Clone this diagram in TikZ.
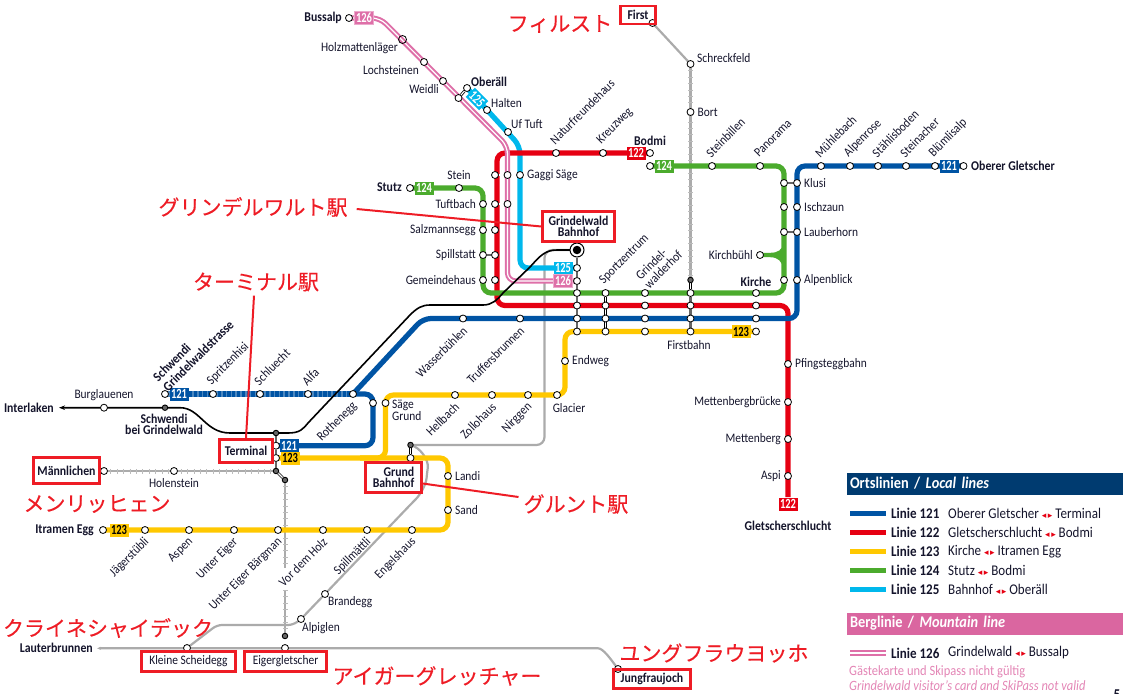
\documentclass[tikz,border=0pt]{standalone}
\usepackage{fontspec}
\usepackage{xcolor}
\setmainfont{Carlito}[FakeStretch=0.88]
\newfontfamily\numfont{Carlito}[FakeStretch=0.75]
\newfontfamily\jpfont{Noto Sans CJK JP}[FakeBold=0.3]
\newfontfamily\symfont{DejaVu Sans}
\usetikzlibrary{calc, backgrounds, arrows.meta}

\definecolor{lineblue}{HTML}{0054A4}
\definecolor{linered}{HTML}{E60012}
\definecolor{lineyellow}{HTML}{FFC800}
\definecolor{linegreen}{HTML}{4BAB2D}
\definecolor{linecyan}{HTML}{00B8EC}
\definecolor{linepink}{HTML}{DE6FA8}
\definecolor{railgray}{HTML}{ABABAB}
\definecolor{linkgray}{HTML}{666666}
\definecolor{textdark}{HTML}{14142B}
\definecolor{noteRed}{HTML}{EE1C25}
\definecolor{bandblue}{HTML}{003B70}
\definecolor{bandpink}{HTML}{DA66A0}

\newcommand{\lrmark}{{\symfont\fontsize{9}{9}\selectfont\textcolor{linered}{◂\,▸}}}

\tikzset{
  rail/.style={line width=5.2pt, rounded corners=8pt},
  railpink/.style={draw=linepink, line width=2pt, double=white, double distance=1.2pt, rounded corners=8pt},
  graytrain/.style={draw=railgray, line width=2.2pt, rounded corners=8pt},
  graycable/.style={graytrain, postaction={draw=railgray!80, line width=5pt, dash pattern=on .8pt off 5.6pt}},
  linkw/.style={draw=black, line width=.8pt, double=white, double distance=1.1pt},
  linkd/.style={draw=linkgray, line width=2.8pt},
  stn/.style={circle, draw=black, fill=white, line width=.8pt, minimum size=7pt, inner sep=0pt},
  stnopen/.style={circle, draw=black, line width=.8pt, minimum size=8pt, inner sep=0pt},
  stnd/.style={circle, draw=black, fill=linkgray, line width=.9pt, minimum size=5.5pt, inner sep=0pt},
  txt/.style={font=\fontsize{13}{12.2}\selectfont, text=textdark, inner sep=0pt},
  txtb/.style={txt, font=\bfseries\fontsize{13.4}{11.6}\selectfont},
  txtup/.style={txt, rotate=45, anchor=west},
  txtdn/.style={txt, rotate=45, anchor=east},
  txtr/.style={txt, anchor=west},
  txtl/.style={txt, anchor=east},
  numbox/.style={font=\numfont\bfseries\fontsize{14}{14}\selectfont, inner sep=0pt, minimum width=19pt, minimum height=13pt, text=white},
  frame/.style={txtb, draw=noteRed, line width=2.4pt},
  frametxt/.style={txt, draw=noteRed, line width=2.4pt},
  notejp/.style={font=\jpfont\fontsize{21}{21}\selectfont, text=noteRed, inner sep=0pt},
  noteline/.style={draw=noteRed, line width=2pt},
  band/.style={font=\bfseries\fontsize{16.3}{16}\selectfont, text=white, minimum height=22pt, text width=270pt, inner xsep=3pt, inner ysep=0pt, align=left},
  legb/.style={txt, font=\bfseries\fontsize{14.8}{15}\selectfont, anchor=west},
  legt/.style={txt, font=\fontsize{14.8}{15}\selectfont, anchor=west},
}

\begin{document}
\begin{tikzpicture}[>=stealth, x=1pt, y=-1pt]
    \useasboundingbox (0,0) rectangle (1123,693);

    % =================================================================
    % 1. STATIONS
    % =================================================================
    % columns crossing the four lines
    \foreach \nm/\x in {bah/577, spo/605.5, wal/645, fir/690.5, kir/756} {
        \foreach \lin/\y in {g/293, r/305.5, b/318.5, y/331.5} {
            \node[stn] (\nm\lin) at (\x,\y) {};
        }
    }

    % labels rising to the right
    \foreach \nm/\x/\y/\txt in {nat/556/153/Naturfreundehaus, kre/603/153/Kreuzweg,
        ste/712/166/Steinbillen, pan/760/166/Panorama, mue/821/166/Mühlebach,
        alr/850/166/Alpenrose, sta/878/166/Stählisboden, sti/906/166/Steinacher,
        blu/935/166/Blümlisalp, spr/213/394/Spritzenhisi, sch/260/394/Schluecht,
        alf/308/394/Alfa} {
        \node[stn] (\nm) at (\x,\y) {};
        \node[txtup] (\nm-t) at ($(\nm)+(-4,-11)$) {\txt};
    }
    \node[txtup] (spo-t) at ($(spog)+(-4,-11)$) {Sportzentrum};
    \node[txtup, align=left] (wal-t) at ($(walg)+(-3,-11)$) {Grindel-\\walderhof};

    % labels falling to the left
    \foreach \nm/\x/\y/\txt in {was/463/318.5/Wasserbühlen, tru/520/318.5/Truffersbrunnen,
        hel/455/395/Hellbach, zol/492/395/Zollohaus, nir/528/395/Nirggen,
        rot/353/394/Rothenegg, jae/145/530/Jägerstübli, asp/189/530/Aspen,
        uei/234/530/Unter Eiger, uba/278/530/Unter Eiger Bärgman, vor/323/530/Vor dem Holz,
        spi/367/530/Spillmättli, eng/412/530/Engelshaus} {
        \node[stn] (\nm) at (\x,\y) {};
        \node[txtdn] (\nm-t) at ($(\nm)+(2,10)$) {\txt};
    }

    % labels on the right
    \foreach \nm/\x/\y/\txt in {gaa/520/175/Gaggi Säge, klb/797/183/Klusi, isb/797/207/Ischzaun,
        lab/797/232/Lauberhorn, apb/797/280/Alpenblick, pfi/788/364/Pfingsteggbahn,
        lan/448/476/Landi, san/448/510/Sand, end/565/361/Endweg, bor/690.5/112/Bort} {
        \node[stn] (\nm) at (\x,\y) {};
        \node[txtr] (\nm-t) at ($(\nm)+(7,0)$) {\txt};
    }

    % labels on the left
    \foreach \nm/\x/\y/\txt in {tuf/483/204/Tuftbach, sal/483/230/Salzmannsegg, spt/483/255/Spillstatt,
        gem/483/280/Gemeindehaus, kib/760/255/Kirchbühl, mbr/788/402/Mettenbergbrücke,
        mbg/788/439/Mettenberg, asi/788/476/Aspi} {
        \node[stn] (\nm) at (\x,\y) {};
        \node[txtl] (\nm-t) at ($(\nm)+(-7,0)$) {\txt};
    }

    % stations with a label of their own
    \node[stn] (gab) at (495,175) {};
    \node[stn] (gap) at (507.5,175) {};
    \node[stn] (tub) at (495,204) {};
    \node[stn] (tup) at (507.5,204) {};
    \node[stn] (sab) at (495,230) {};
    \node[stn] (spb) at (495,255) {};
    \node[stn] (geb) at (495,280) {};
    \node[stn] (klg) at (784,183) {};
    \node[stn] (isg) at (784,207) {};
    \node[stn] (lag) at (784,232) {};
    \node[stn] (apg) at (784,280) {};
    \node[stn] (sey) at (385.5,403) {};
    \node[stn] (seb) at (373,403) {};

    \node[stn] (bus) at (349,18) {};
    \node[stnopen] (hol) at (402.5,39.5) {};
    \node[stn] (loc) at (424,62) {};
    \node[stn] (wei) at (443,81) {};
    \node[stn] (obp) at (458.5,98) {};
    \node[stn] (obc) at (467,88) {};
    \node[stn] (hal) at (487,110) {};
    \node[stn] (uft) at (508,132) {};
    \node[stn] (stu) at (410,188) {};
    \node[stn] (stn) at (459,188) {};
    \node[stn] (bor122) at (650,153) {};
    \node[stn] (bor124) at (650,166) {};
    \node[stn] (ogl) at (963.5,166) {};
    \node[stn] (bur) at (104,407.7) {};
    \node[stnd] (swb) at (165,407.7) {};
    \node[stn] (swg) at (165,394) {};
    \node[stnd] (tdn) at (276,433) {};
    \node[stn] (t121) at (276,445.7) {};
    \node[stn] (t123) at (276,458) {};
    \node[stnd] (tup2) at (276,471) {};
    \node[stnd] (tlo) at (285,480) {};
    \node[stn] (mae) at (104,471) {};
    \node[stn] (hle) at (174,471) {};
    \node[stn] (itr) at (103,530) {};
    \node[stn] (gla) at (557,395) {};
    \node[stnd] (gro) at (410.5,445) {};
    \node[stn] (gru) at (410.5,458) {};
    \node[stn] (brn) at (325,594) {};
    \node[stn] (alg) at (301,619) {};
    \node[stn] (kls) at (187,648) {};
    \node[stn] (eig) at (285,648) {};
    \node[stnd] (eid) at (285,636) {};
    \node[stn] (jun) at (618,669) {};
    \node[stn] (fst) at (652.5,23) {};
    \node[stn] (sre) at (690.5,64) {};
    \node[stnd] (fdn) at (690.5,280) {};
    \node[stn] (bah125) at (577,268) {};
    \node[stn] (bah126) at (577,281) {};
    \node[circle, draw=black, fill=white, line width=1pt, minimum size=14pt, inner sep=0pt] (bah) at (577,250) {};
    \node[circle, fill=black, minimum size=8.5pt, inner sep=0pt] (bah-in) at (bah) {};

    % =================================================================
    % 2. RAILS, BEHIND THE STATIONS
    % =================================================================
    \begin{scope}[on background layer]
        % mountain rails
        \draw[graytrain] (fst.center) -- (sre.center);
        \draw[graycable] (sre.center) -- (fdn.center);
        \draw[graycable] (mae.center) -- (tup2.center);
        \draw[graycable] (tlo.center) -- (285,568);
        \draw[graycable] (285,590) -- (eid.center);
        \draw[graytrain, {Stealth[length=4pt, width=3pt]}-] (97,648.3) -- (590,648.3) .. controls (603,648.3) and (610,658) .. (jun.center);
        \draw[graytrain] (bah.center) -- (544.5,250) -- (544.5,445) -- (gro.center);
        \draw[graytrain, rounded corners=5pt] (gro.center) .. controls (420,447) and (429,460) .. (427,473)
            .. controls (426,485) and (420,495) .. (412,503) -- (brn.center) -- (alg.center) -- (293,625) -- (217,625) -- (kls.center);

        % coloured lines
        \draw[rail, linecyan] (obc.center) -- (520,146) -- (520,268) -- (bah125.center);
        \draw[rail, linered] (788,497) -- (788,305.5) -- (497,305.5) -- (497,153) -- (bor122.center);
        \draw[railpink] (bus.center) -- (380,18) -- (507.5,146) -- (507.5,281) -- (bah126.center);
        \draw[rail, linegreen] (stu.center) -- (483,188) -- (483,293) -- (784,293) -- (784,166) -- (bor124.center);
        \fill[linegreen] (kib.center) ++(0,-2.2) -- (770,252.8) .. controls (778,252.8) and (782,250) .. (784,243)
            -- (784,270) .. controls (782,261) and (778,257.2) .. (770,257.2) -- (760,257.2) -- cycle;
        \draw[rail, lineblue] (ogl.center) -- (797,166) -- (797,318.5) -- (423,318.5) -- (rot.center);
        \draw[rail, lineblue] (rot.center) -- (373,394) -- (373,445.7) -- (t121.center);
        \draw[lineblue!70, line width=5.2pt] (swg.center) -- (rot.center);
        \draw[lineblue, line width=5.2pt, dash pattern=on 3.2pt off 1.6pt] (swg.center) -- (rot.center);
        \draw[rail, lineyellow] (kiry.center) -- (565,331.5) -- (565,395) -- (385.5,395) -- (385.5,458) -- (360,458);
        \draw[rail, lineyellow] (t123.center) -- (448,458) -- (448,530) -- (itr.center);

        % the valley railway
        \draw[{Stealth[length=6pt, width=4.5pt]}-, line width=1.6pt] (59,407.7) -- (bur.center) -- (180,407.7)
            .. controls (200,407.7) and (205,433) .. (230,433) -- (288,433)
            .. controls (300,433) and (303,429) .. (308,423) -- (410,315)
            .. controls (417,308) and (422,305) .. (430,305) -- (483,305)
            .. controls (492,305) and (497,300) .. (503,293) -- (530,267)
            .. controls (540,256) and (545,250) .. (557,250) -- (bah.center);

        % links between stations
        \draw[linkd] (bah) -- (bah125) -- (bah126) -- (bahg) -- (bahr) -- (bahb) -- (bahy);
        \draw[linkd] (firg) -- (firr) -- (firb) -- (firy);
        \draw[linkw] (fdn) -- (firg);
        \draw[linkw] (spog) -- (spor) -- (spob) -- (spoy);
        \draw[linkw] (walg) -- (walr) -- (walb) -- (waly);
        \draw[linkw] (kirg) -- (kirr) -- (kirb) -- (kiry);
        \draw[linkw] (gab) -- (gap) -- (gaa);
        \draw[linkw] (tuf) -- (tub) -- (tup);
        \draw[linkw] (sal) -- (sab);
        \draw[linkd, line width=2pt] (spt) -- (spb);
        \draw[linkw] (gem) -- (geb);
        \draw[linkd, line width=2pt] (klg) -- (klb);
        \draw[linkw] (isg) -- (isb);
        \draw[linkd, line width=2pt] (lag) -- (lab);
        \draw[linkw] (apg) -- (apb);
        \draw[linkw] (seb) -- (sey);
        \draw[linkw] (obp) -- (obc);
        \draw[linkw] (bor122) -- (bor124);
        \draw[linkw] (swb) -- (swg);
        \draw[linkw] (gro) -- (gru);
        \draw[linkw] (eid) -- (eig);
        \draw[linkw] (tup2) -- (tlo);
        \draw[linkd] (tdn) -- (t121) -- (t123) -- (tup2);
    \end{scope}

    % =================================================================
    % 3. LINE NUMBER BOXES
    % =================================================================
    \node[numbox, fill=linepink, draw=linepink!60] (box126a) at (364,18) {126};
    \node[numbox, fill=linecyan, rotate=-45] (box125a) at (477,99) {125};
    \node[numbox, fill=linered] (box122a) at (636,153) {122};
    \node[numbox, fill=linegreen] (box124a) at (664,166) {124};
    \node[numbox, fill=linegreen] (box124b) at (424,188) {124};
    \node[numbox, fill=lineblue] (box121a) at (949,166) {121};
    \node[numbox, fill=linecyan] (box125b) at (563,268) {125};
    \node[numbox, fill=linepink, draw=linepink!60] (box126b) at (563,281) {126};
    \node[numbox, fill=lineyellow, text=black] (box123a) at (741,331.5) {123};
    \node[numbox, fill=linered] (box122b) at (788,504) {122};
    \node[numbox, fill=lineblue] (box121b) at (179,394) {121};
    \node[numbox, fill=lineblue] (box121c) at (289,445.7) {121};
    \node[numbox, fill=lineyellow, text=black] (box123b) at (290,458) {123};
    \node[numbox, fill=lineyellow, text=black] (box123c) at (119,530) {123};

    % =================================================================
    % 4. REMAINING STATION NAMES
    % =================================================================
    \node[txtb, anchor=east] (bus-t) at (342,18) {Bussalp};
    \node[txtl] (hol-t) at (398,48) {Holzmattenläger};
    \node[txtl] (loc-t) at (419,70) {Lochsteinen};
    \node[txtl] (wei-t) at (439,89) {Weidli};
    \node[txtb, anchor=west] (obc-t) at (471,82) {Oberäll};
    \node[txtr] (hal-t) at (491,103) {Halten};
    \node[txtr] (uft-t) at (511,124) {Uf Tuft};
    \node[txtb, anchor=east] (stu-t) at (402,187) {Stutz};
    \node[txt] (stn-t) at (459,175) {Stein};
    \node[txtb] (bod-t) at (650,141) {Bodmi};
    \node[txtb, anchor=west] (ogl-t) at (971,166) {Oberer Gletscher};
    \node[txtb] (kir-t) at (756,282) {Kirche};
    \node[txt] (fbn-t) at (689,345) {Firstbahn};
    \node[txtr] (sre-t) at (697,58) {Schreckfeld};
    \node[txtb] (gsc-t) at (788,526) {Gletscherschlucht};
    \node[txtr, align=left] (sey-t) at (392,410) {Säge\\Grund};
    \node[txt] (gla-t) at (569,408) {Glacier};
    \node[txtr] (brn-t) at (328,602) {Brandegg};
    \node[txtr] (alg-t) at (302,628) {Alpiglen};
    \node[txtb, anchor=east] (itr-t) at (94,530) {Itramen Egg};
    \node[txtb, anchor=east] (int-t) at (54,407.7) {Interlaken};
    \node[txt] (bur-t) at (104,395) {Burglauenen};
    \node[txtb, align=center] (swb-t) at (164,424.5) {Schwendi\\bei Grindelwald};
    \node[txtb, rotate=45, anchor=west, align=left, font=\bfseries\fontsize{13.4}{14}\selectfont] (swg-t) at ($(swg)+(-5,-10)$) {Schwendi\\Grindelwaldstrasse};
    \node[txt] (hle-t) at (174,483) {Holenstein};
    \node[txtb, anchor=east] (lbr-t) at (93,648) {Lauterbrunnen};

    % =================================================================
    % 5. RED FRAMES AND NOTES
    % =================================================================
    \node[frame, minimum width=35pt, minimum height=18pt] (ffir) at (638,15) {First};
    \node[frame, minimum width=72pt, minimum height=30pt, align=center] (fgri) at (578.5,226.5) {Grindelwald\\Bahnhof};
    \node[frame, minimum width=53pt, minimum height=23pt] (fter) at (246,451) {Terminal};
    \node[frame, minimum width=66pt, minimum height=26pt] (fmae) at (66.5,470.5) {Männlichen};
    \node[frame, minimum width=56pt, minimum height=30pt, align=right] (fgru) at (393.5,477.5) {Grund\\Bahnhof};
    \node[frametxt, minimum width=94pt, minimum height=20pt] (fkls) at (188.5,661.5) {Kleine Scheidegg};
    \node[frametxt, minimum width=82pt, minimum height=20pt] (feig) at (285.5,661.5) {Eigergletscher};
    \node[frame, minimum width=77pt, minimum height=19pt] (fjun) at (652,679) {Jungfraujoch};

    \node[notejp] (tfir) at (560,24) {フィルスト};
    \node[notejp] (tgri) at (253,207) {グリンデルワルト駅};
    \node[notejp] (tter) at (256,282) {ターミナル駅};
    \node[notejp] (tgru) at (576,504) {グルント駅};
    \node[notejp] (tmae) at (97,504) {メンリッヒェン};
    \node[notejp] (tkls) at (108,628) {クライネシャイデック};
    \node[notejp] (teig) at (437,676) {アイガーグレッチャー};
    \node[notejp] (tjun) at (714,653) {ユングフラウヨッホ};

    \draw[noteline] ($(tgri.east)+(9,2)$) -- (fgri.west);
    \draw[noteline] ($(tter.south)+(-2,4)$) -- (fter.north);
    \draw[noteline] ($(fgru.east)+(0,6)$) -- ($(tgru.west)+(-5,-7)$);

    % =================================================================
    % 6. LEGEND
    % =================================================================
    \node[band, fill=bandblue] (bandlocal) at (985,483.5) {Ortslinien / \textit{Local lines}};
    \foreach \lin/\col/\y/\dsc in {121/lineblue/513.5/Oberer Gletscher \lrmark{} Terminal,
        122/linered/532.5/Gletscherschlucht \lrmark{} Bodmi,
        123/lineyellow/551.5/Kirche \lrmark{} Itramen Egg,
        124/linegreen/570.5/Stutz \lrmark{} Bodmi,
        125/linecyan/589.5/Bahnhof \lrmark{} Oberäll} {
        \draw[\col, line width=5pt] (850,\y) -- (886,\y);
        \node[legb] (leg\lin) at (891,\y) {Linie \lin};
        \node[legt] (dsc\lin) at (948,\y) {\dsc};
    }
    \node[band, fill=bandpink] (bandmount) at (985,623.5) {Berglinie / \textit{Mountain line}};
    \draw[railpink] (850,653) -- (886,653);
    \node[legb] (leg126) at (891,653) {Linie 126};
    \node[legt] (dsc126) at (948,653) {Grindelwald \lrmark{} Bussalp};
    \node[legt, text=linepink!85, font=\fontsize{14.2}{14}\selectfont] (notede) at (849,672) {Gästekarte und Skipass nicht gültig};
    \node[legt, text=linepink!85, font=\itshape\fontsize{14.2}{14}\selectfont] (noteen) at (849,686) {Grindelwald visitor’s card and SkiPass not valid};
    \node[txtb, font=\bfseries\fontsize{15}{15}\selectfont] (pagenum) at (1117,695) {5};

\end{tikzpicture}
\end{document}
